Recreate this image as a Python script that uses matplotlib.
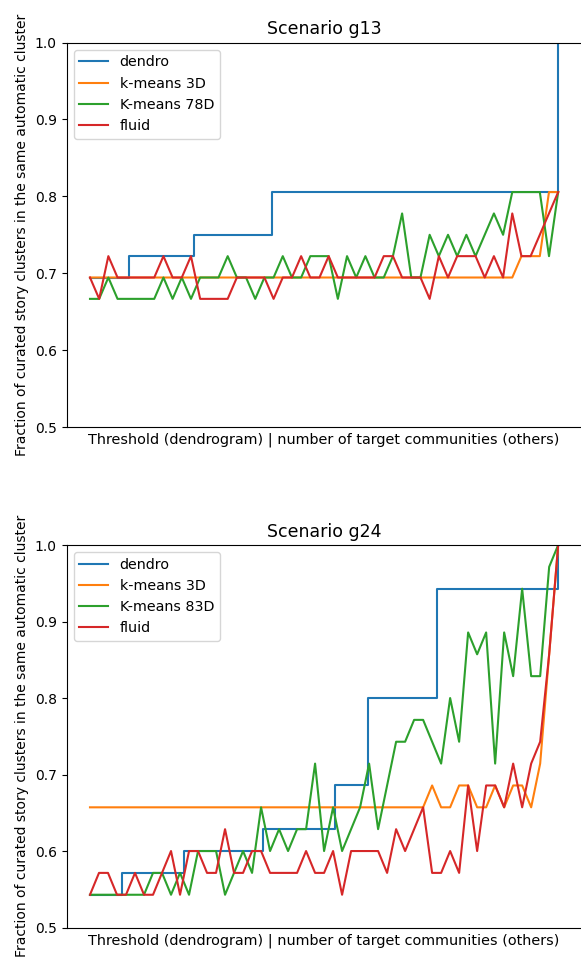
#!/usr/bin/env python3
"""
Fraction of curated story clusters that end up in the same automatic cluster,
for two scenarios (g13 and g24) and four clustering methods.

Outputs:
- out.png
"""
import matplotlib
matplotlib.use('Agg')  # Non-interactive backend
import matplotlib.pyplot as plt
import numpy as np

# Scenario g13: 36 curated stories, 52 settings per method
g13_stories = 36
g13_kmeans3d = [25] * 47 + [26, 26, 26, 29, 29]
g13_kmeans78d = [24, 24, 25, 24, 24, 24, 24, 24, 25, 24, 25, 24, 25, 25, 25, 26,
                 25, 25, 24, 25, 25, 26, 25, 25, 26, 26, 26, 24, 26, 25, 26, 25,
                 25, 26, 28, 25, 25, 27, 26, 27, 26, 27, 26, 27, 28, 27, 29, 29,
                 29, 29, 26, 29]
g13_fluid = [25, 24, 26, 25, 25, 25, 25, 25, 26, 25, 25, 26, 24, 24, 24, 24,
             25, 25, 25, 25, 24, 25, 25, 26, 25, 25, 26, 25, 25, 25, 25, 25,
             26, 26, 25, 25, 25, 24, 26, 25, 26, 26, 26, 25, 26, 25, 28, 26,
             26, 27, 28, 29]
# dendrogram thresholds where the count changes (step function)
g13_dendro_x = [0, 4.28, 11.37, 19.87, 51]
g13_dendro = [25, 26, 27, 29, 36]

# Scenario g24: 35 curated stories, 53 settings per method
g24_stories = 35
g24_kmeans3d = [23] * 38 + [24, 23, 23, 24, 24, 23, 23, 24, 23, 24, 24, 23, 25, 30, 35]
g24_kmeans83d = [19, 19, 19, 19, 19, 19, 19, 20, 20, 19, 20, 19, 21, 21, 21, 19,
                 20, 21, 20, 23, 21, 22, 21, 22, 22, 25, 21, 23, 21, 22, 23, 25,
                 22, 24, 26, 26, 27, 27, 26, 25, 28, 26, 31, 30, 31, 25, 31, 29,
                 33, 29, 29, 34, 35]
g24_fluid = [19, 20, 20, 19, 19, 20, 19, 19, 20, 21, 19, 21, 21, 20, 20, 22,
             20, 20, 21, 21, 20, 20, 20, 20, 21, 20, 20, 21, 19, 21, 21, 21,
             21, 20, 22, 21, 22, 23, 20, 20, 21, 20, 24, 21, 24, 24, 23, 25,
             23, 25, 26, 30, 35]
g24_dendro_x = [0, 3.52, 10.48, 19.26, 27.2, 30.92, 38.52, 52]
g24_dendro = [19, 20, 21, 22, 24, 28, 33, 35]

XLABEL = 'Threshold (dendrogram) | number of target communities (others)'
YLABEL = 'Fraction of curated story clusters in the same automatic cluster'


def plot_scenario(ax, title, n_stories, dendro_x, dendro, kmeans3d, kmeans_hd,
                  hd_label, fluid):
    """Draw one scenario panel."""
    x = np.arange(len(kmeans3d))
    ax.plot(dendro_x, np.array(dendro) / n_stories, drawstyle='steps-post',
            label='dendro')
    ax.plot(x, np.array(kmeans3d) / n_stories, label='k-means 3D')
    ax.plot(x, np.array(kmeans_hd) / n_stories, label=hd_label)
    ax.plot(x, np.array(fluid) / n_stories, label='fluid')

    ax.set_ylim(0.5, 1.0)
    ax.set_xticks([])
    ax.set_xlabel(XLABEL, fontsize=10.4)
    ax.set_ylabel(YLABEL)
    ax.set_title(title, fontsize=12.5)
    ax.legend(loc='upper left', fontsize=10.3)


fig = plt.figure(figsize=(5.81, 9.67), dpi=100)
ax_top = fig.add_axes([0.1146, 0.5584, 0.8864, 0.3976])
ax_bot = fig.add_axes([0.1146, 0.0408, 0.8864, 0.3956])

plot_scenario(ax_top, 'Scenario g13', g13_stories, g13_dendro_x, g13_dendro,
              g13_kmeans3d, g13_kmeans78d, 'K-means 78D', g13_fluid)
plot_scenario(ax_bot, 'Scenario g24', g24_stories, g24_dendro_x, g24_dendro,
              g24_kmeans3d, g24_kmeans83d, 'K-means 83D', g24_fluid)

fig.savefig('out.png', dpi=100)
plt.close(fig)
